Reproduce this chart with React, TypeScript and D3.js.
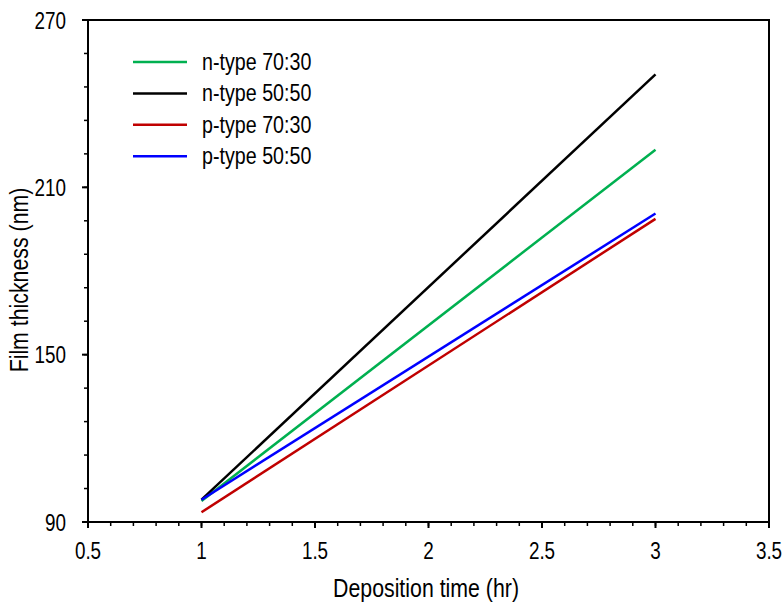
import React from "react";
import * as d3 from "d3";

const times = [1, 3];
const nType7030 = [97.5, 223.5];
const nType5050 = [98, 250.5];
const pType7030 = [93.5, 198.7];
const pType5050 = [98, 200.6];

const seriesNames = ["n-type 70:30", "n-type 50:50", "p-type 70:30", "p-type 50:50"];
const seriesColors = ["#00b050", "#000000", "#c00000", "#0000ff"];
const seriesValues = [nType7030, nType5050, pType7030, pType5050];

const xMajorTicks = [0.5, 1, 1.5, 2, 2.5, 3, 3.5];
const yMajorTicks = [90, 150, 210, 270];

const W = 784, H = 602;
const M = { left: 88, top: 20, right: 15, bottom: 80 };
const FONT = "'Liberation Sans', Arial, sans-serif";
const SX = 0.82;

function T({ x, y, size, anchor, children, rotate }: any) {
  const tr = `translate(${x},${y})` + (rotate ? ` rotate(${rotate})` : "") + ` scale(${SX},1)`;
  return (
    <g transform={tr}>
      <text textAnchor={anchor} fontFamily={FONT} fontSize={size} fill="#000">{children}</text>
    </g>
  );
}

export default function App() {
  const x = d3.scaleLinear().domain([0.5, 3.5]).range([M.left, W - M.right]);
  const y = d3.scaleLinear().domain([90, 270]).range([H - M.bottom, M.top]);
  const line = d3.line<[number, number]>().x(d => x(d[0])).y(d => y(d[1]));

  const xMinor = d3.range(0, 31).map(i => 0.5 + i * 0.1);
  const yMinor = d3.range(0, 16).map(i => 90 + i * 12);

  const x0 = M.left, x1 = W - M.right, y0 = H - M.bottom, y1 = M.top;

  return (
    <svg width={W} height={H} style={{ position: "absolute", left: 0, top: 0, background: "#fff" }}>
      {seriesValues.map((vals, i) => (
        <path key={i} d={line(times.map((t, j) => [t, vals[j]]) as [number, number][]) || ""}
          fill="none" stroke={seriesColors[i]} strokeWidth={2.5} />
      ))}
      <rect x={x0} y={y1} width={x1 - x0} height={y0 - y1} fill="none" stroke="#000" strokeWidth={2} />
      {xMinor.map((v, i) => (
        <line key={"xm" + i} x1={x(v)} x2={x(v)} y1={y0} y2={y0 + 4} stroke="#000" strokeWidth={1.5} />
      ))}
      {xMajorTicks.map((v, i) => (
        <line key={"xM" + i} x1={x(v)} x2={x(v)} y1={y0} y2={y0 + 6} stroke="#000" strokeWidth={2} />
      ))}
      {yMinor.map((v, i) => (
        <line key={"ym" + i} x1={x0 - 4} x2={x0} y1={y(v)} y2={y(v)} stroke="#000" strokeWidth={1.5} />
      ))}
      {yMajorTicks.map((v, i) => (
        <line key={"yM" + i} x1={x0 - 6} x2={x0} y1={y(v)} y2={y(v)} stroke="#000" strokeWidth={2} />
      ))}
      {xMajorTicks.map((v, i) => (
        <T key={"xl" + i} x={x(v)} y={559} size={23} anchor="middle">{String(v)}</T>
      ))}
      {yMajorTicks.map((v, i) => (
        <T key={"yl" + i} x={66} y={y(v) + 8.5} size={23} anchor="end">{String(v)}</T>
      ))}
      <T x={426} y={597} size={26} anchor="middle">Deposition time (hr)</T>
      <T x={28} y={280} size={26} anchor="middle" rotate={-90}>Film thickness (nm)</T>
      {seriesNames.map((name, i) => {
        const ly = 62 + i * 31.4;
        return (
          <g key={"lg" + i}>
            <line x1={133} x2={187} y1={ly} y2={ly} stroke={seriesColors[i]} strokeWidth={2.5} />
            <T x={202} y={ly + 8} size={24} anchor="start">{name}</T>
          </g>
        );
      })}
    </svg>
  );
}
